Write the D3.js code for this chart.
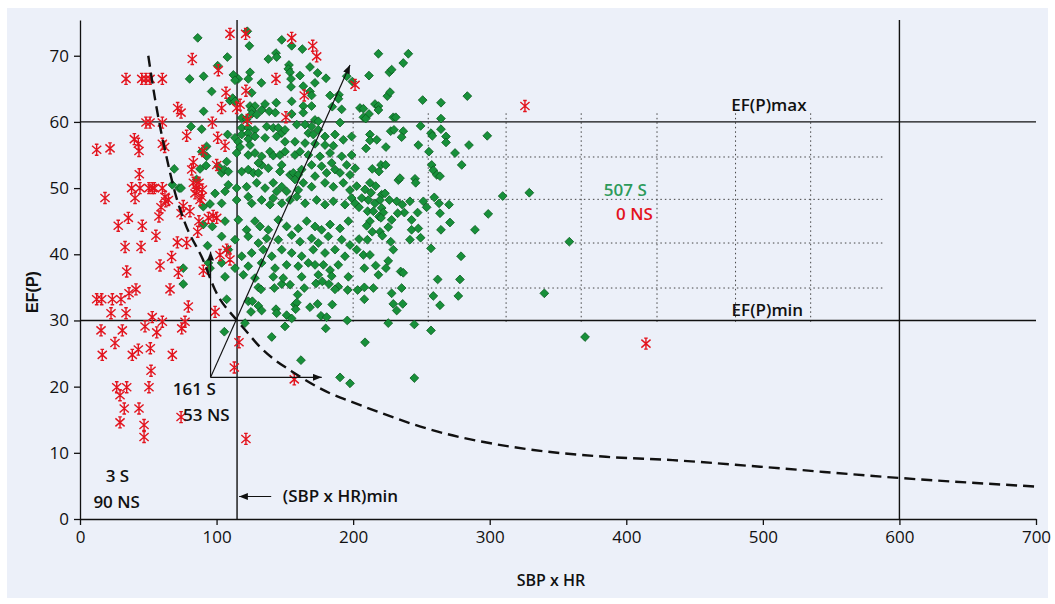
<!DOCTYPE html>
<html>
<head>
<meta charset="utf-8">
<script src="https://cdn.jsdelivr.net/npm/d3@7"></script>
<style>
  body { margin: 0; background: #fff; }
  svg text { font-family: "Open Sans", sans-serif; }
</style>
</head>
<body>
<svg id="chart" width="1055" height="604"></svg>
<script>
// ticks
const xTicks = [0, 100, 200, 300, 400, 500, 600, 700];
const yTicks = [0, 10, 20, 30, 40, 50, 60, 70];

// reference lines (EF(P)min / EF(P)max, (SBP x HR)min and 600)
const efLimits = [30, 60];
const sbpLimits = [115, 600];

// dotted grid inside the "S" zone
const gridXs = [200, 255, 312, 367, 422.5, 480, 535];
const gridYs = [34.9, 41.7, 48.3, 54.7];

// dashed limit curve
const curve = [[50,70],[55,63.4],[59.3,58.6],[62.2,55.8],[69.6,49.3],[76.9,44.7],[90,39.2],[98.9,34.6],
  [115,30],[120.8,28.6],[131.8,26],[158.9,21.8],[183,19],[199,17.7],[262,13.2],[326,10.6],[385,9.4],
  [434,8.9],[498,7.9],[600,6.2],[700,4.9]];

// S patients (green diamonds)
const sPoints = [
  [86.2,72.7],[80.3,66.5],[90.5,66.9],[96.4,64.6],[90.5,61.6],[81.3,59.3],[89.1,58.9],[92.7,56.3],
  [122.5,73.7],[124,71.5],[147.7,72.4],[155,71.5],[162.8,71.0],[107.9,69.8],[143.5,70.4],[144,69.8],[137.9,69.5],
  [153,68.6],[152.5,68.0],[153.8,67.5],[168.4,68.3],[100.8,68.5],[112.3,67.1],[115.9,66.5],[113.5,66.3],[124.5,67.5],
  [123.2,66.5],[132.8,65.9],[154.5,66.5],[154.5,65.3],[161.1,67.0],[174,67.4],[172,65.9],[180.1,66.6],[163.5,65.4],
  [195.3,66.9],[199.4,66.1],[125.7,64.4],[109.8,63.2],[111.8,63.6],[113.5,63.1],[143.7,62.9],[155,63.1],[168.4,64.6],
  [169.6,64.0],[183.1,64.0],[189.6,64.1],[189.2,63.5],[184.7,62.3],[191.6,61.9],[124.5,62.4],[128.1,62.4],[125.7,61.8],
  [135.5,62.7],[133,61.8],[138.6,61.6],[143,61.4],[163.5,62.4],[169.6,62.4],[163.5,61.4],[155,61.2],[118.4,60.6],
  [122,60.4],[125.7,61.2],[129.4,61.1],[190.4,59.9],[172,60.3],[174.5,60.1],
  [118.4,59.1],[123.2,59.1],[128.1,58.8],[118.4,58.1],[123.2,58.3],[123.2,57.4],[128.1,57.8],[136.7,59.3],[141.5,59.1],
  [145.2,59.1],[147.7,58.3],[144,57.8],[150.1,58.8],[158.7,59.6],[164.8,59.6],[169.6,59.3],[167.2,58.3],[170.8,58.1],
  [174.5,58.8],[179.4,57.8],[186.7,58.1],[108.1,58.1],[113.5,57.6],[115.9,57.0],[135.5,57.6],[150.1,57.0],[157.4,57.0],
  [164.8,56.8],[172.1,56.7],[179.4,56.5],[185.5,56.4],[192.8,57.3],[198.9,57.8],[124.5,56.5],[117.2,56.2],
  [218.5,70.3],[240.4,70.3],[236.7,68.9],[226.5,67.5],[228.2,67.9],[211.6,67.0],[225,63.9],[227,64.5],[250.9,63.3],
  [264.3,62.9],[283.6,63.9],[205,62.1],[207.5,62.0],[216,62.7],[218.5,62.4],[218.5,61.8],[211.6,61.2],[207.5,60.7],
  [209.2,60.5],[229.4,60.7],[231.2,60.7],[264.3,60.5],[249.4,59.4],[264.3,58.9],[227.5,58.6],[229.9,58.8],[236.7,58.6],
  [212.3,58.1],[212.3,57.2],[217.3,57.3],[235.5,57.7],[257,58.3],[258,57.9],[268,57.8],[268,56.9],[247.7,56.5],
  [284.8,56.5],[298.2,57.9],[224,56.2],[209.4,56.0],
  [89.1,55.5],[92.8,54.8],[87.9,52.9],[92.3,53.4],[69,52.9],[67.6,50.5],[72.5,50.0],[74,50.0],[85.4,51.3],[95.2,47.6],
  [90.3,47.2],[90.3,44.5],[96.9,44.2],[93.4,41.3],[75.6,37.9],[94,38.7],[95.2,37.9],[75.6,35.5],
  [101.3,53.3],[103.7,52.3],[98.9,49.2],
  [107.4,33.2],[105.7,28.3],[120.8,29.6],[140.4,27.5],[150.1,29.1],[161.8,24.0],[190.4,21.4],[197.7,20.5],[130.6,35.0],
  [132.5,34.7],[142.3,34.9],[147.7,35.5],[153.8,35.4],[164.2,34.9],[172.8,35.6],[177.4,35.9],[182.3,35.5],[189.1,35.1],
  [186.7,34.7],[196,34.6],[123.2,32.9],[126.2,32.9],[125.2,31.3],[130.6,32.2],[133,31.5],[143.5,31.7],[144,31.1],
  [151.3,30.8],[155,30.3],[159.4,33.9],[157.4,32.4],[158.7,32.7],[157.9,31.7],[168.4,32.0],[174,32.5],[176.5,30.7],
  [180.6,30.5],[184.7,32.4],[179.9,28.8],[195.7,30.0],
  [203.3,34.6],[208.2,35.0],[214.8,34.9],[208.2,33.2],[228.2,34.1],[235.5,34.9],[229.4,32.5],[236.3,32.5],[231.9,31.5],
  [258.7,33.7],[263.6,32.3],[277,33.7],[340,34.1],[225.7,29.6],[244.8,29.4],[257,28.5],[208.7,26.7],[244.8,21.3],
  [309.5,48.8],[329,49.3],[358.3,41.9],[369.8,27.5],
  [255.5,55.5],[274.6,55.3],[214,52.9],[220.4,53.5],[223.8,53.5],[218.9,52.5],[257.5,53.5],[258.7,52.7],[261.2,52.0],
  [263.6,51.8],[279.5,53.5],[233.1,51.2],[234.3,51.5],[245.3,51.4],[245.8,50.8],[201.4,53.0],[202.6,50.3],[208.7,49.8],
  [212.3,50.8],[213.1,49.3],[216.5,50.3],[220.9,49.0],[223.3,49.2],[216,47.7],[219.7,48.2],[211.1,48.2],[206.3,48.5],
  [201.4,47.7],[204.3,47.1],[226.5,48.2],[231.9,48.0],[236,47.5],[241.6,48.0],[247.2,46.3],[251.4,48.0],[253.8,47.1],
  [259.4,48.6],[262.9,47.7],[270.2,47.5],[263.6,46.2],[270.9,44.8],[264.3,43.7],[289.2,43.7],[298.9,46.1],[210.6,46.5],
  [214.8,46.5],[220.9,47.0],[222.1,46.3],[218.9,45.7],[220.4,45.5],[228.2,45.2],[237.5,46.3],[232.6,46.2],[212.3,45.0],
  [209.9,44.3],[225.7,44.1],[242.8,45.2],[242.8,43.7],[247.7,43.9],[214,43.4],[219.7,43.4],[221.4,42.8],[204.3,42.3],
  [210.4,42.2],[241.6,42.2],[249.4,42.5],[227.5,41.9],[257,40.9],[229.4,40.7],[202.6,40.7],[279,39.7],[207.5,39.9],
  [212.3,39.9],[225.7,39.0],[216.5,38.3],[224,37.9],[208.2,37.9],[234.8,37.4],[236.7,37.2],[218.5,36.9],[261.9,36.2],
  [278.2,36.2],
  [114.7,55.3],[123.2,55.0],[128.1,55.3],[133,54.8],[139.1,55.5],[141.5,54.9],[146.4,55.0],[150.1,55.5],[157.4,55.0],
  [161.1,55.5],[167.2,55.0],[175.7,54.8],[183.1,55.3],[191.6,54.8],[198.9,55.0],[107.4,54.0],[105.7,52.8],[108.6,52.5],
  [118.4,52.5],[123.2,52.8],[126.9,52.3],[130.6,52.3],[133,53.5],[130.6,53.8],[137.9,53.0],[146.4,52.5],[147.7,53.5],
  [153.8,52.0],[156.2,52.3],[159.8,52.0],[162.3,52.8],[169.6,53.5],[172.1,51.8],[176.9,53.3],[180.6,52.3],[184.3,53.8],
  [186.7,52.8],[190.4,52.3],[195.3,53.5],[197.7,52.0],
  [108.6,50.5],[106.2,49.5],[114.7,50.0],[122,50.2],[129.4,50.8],[135.5,50.0],[141.5,50.8],[144,49.5],[147.7,50.2],
  [151.3,49.5],[157.4,51.3],[159.8,49.7],[163.5,50.8],[169.6,50.2],[179.4,50.8],[185.5,50.2],[192.8,50.8],[197.7,49.7],
  [103.7,47.7],[114.7,48.2],[123.2,48.7],[125.7,47.7],[133,48.2],[139.1,47.5],[141.5,48.5],[147.7,47.7],[153.8,48.2],
  [158.7,48.7],[164.8,47.7],[173.3,48.2],[179.4,47.5],[185.5,48.0],[194,47.5],[198.9,48.5],
  [106.2,45.0],[115.9,45.2],[122,43.7],[128.1,45.0],[131.8,44.2],[137.9,43.7],[145.2,45.2],[151.3,44.2],[159.8,43.9],
  [166,45.0],[172.1,44.2],[176.9,43.7],[183.1,44.5],[190.4,43.9],[196.5,45.0],[103.7,42.7],[113.5,42.2],[123.2,42.7],
  [130.6,41.7],[136.7,42.4],[145.2,42.2],[155,42.9],[161.1,41.9],[169.6,42.4],[174.5,41.7],[181.8,42.7],[191.6,42.2],
  [197.7,41.4],[108.6,40.7],[118.4,39.7],[125.7,40.2],[134.2,40.7],[140.4,39.7],[147.7,40.7],[155,40.2],[162.3,39.7],
  [170.8,40.7],[179.4,40.2],[186.7,40.7],[194,39.7],[103.7,38.7],[113.5,37.9],[123.2,38.2],[133,38.7],[142.8,37.9],
  [151.3,38.4],[159.8,38.2],[167.2,38.7],[172.1,38.4],[178.2,38.4],[183.1,37.6],[189.1,38.4],[106.2,36.6],[119.6,36.9],
  [128.1,36.4],[141.5,36.6],[148.8,36.4],[162.3,36.6],[174.5,36.9],[184.3,36.7],[196.5,36.6]
];

// NS patients (red asterisks)
const nsPoints = [
  [82.2,69.5],[33.7,66.5],[45.2,66.5],[48.3,66.5],[51.3,66.5],[60.3,66.5],[71.5,62.1],[74,61.4],[48.3,59.9],[51.3,59.9],
  [60.3,59.9],[96.9,59.9],[78.1,57.9],[39.8,57.4],[42.7,56.7],[60.3,56.7],[62,56.2],[12.2,55.8],[22,56],[43.2,55.6],[90,55.6],
  [109.8,73.3],[121.3,73.3],[155,72.7],[170.4,71.5],[173.3,69.9],[101.3,67.8],[143.5,66.5],[106.9,64.4],[121.5,64.7],
  [103.7,62.1],[114.7,62.1],[117.2,62.6],[164.2,64.0],[150.8,60.7],[122.5,60.3],[100.8,57.6],[106.2,56.4],[201.4,65.6],
  [83,53.9],[81.8,52.8],[43.4,52.1],[37.8,50],[43.9,50],[50.5,50],[52.9,50],[54.4,50],[60.3,50],[83,50.8],[85.4,50],
  [87.1,50.8],[89.6,49.8],[18.3,48.5],[40.3,48.5],[62.2,48.7],[64.7,48.2],[62.8,48.0],[84.2,49.2],[89.1,48.7],[87.9,48.2],
  [59.3,47.1],[75.6,47.3],[80.5,46.5],[74,46.2],[35.4,45.5],[28,44.3],[45.6,44.3],[57.8,45.7],[94,45.5],[87.1,45.0],
  [86.2,43.4],[55.6,42.8],[33,41.1],[44.7,41.1],[71.3,41.8],[78.1,41.7],[67.1,39.6],[58.6,38.3],[34.2,37.4],[72,37.2],
  [90.3,37.5],[100.1,53.5],[100.1,45.5],[97.5,45.8],[107.4,40.7],[102.5,39.9],[109.8,39.2],
  [12.2,33.2],[15.9,33.2],[23.7,33.2],[30,33.2],[35.9,34.1],[41,34.7],[65.9,34.7],[79.3,32.1],[22.7,31.1],[33.7,31.1],
  [52.9,30.5],[60.3,29.8],[47.6,29.1],[56.2,28.2],[76.9,29.8],[74.5,28.8],[15.4,28.5],[31,28.5],[25.6,26.6],[16.3,24.8],
  [38.3,24.8],[42.7,25.6],[51.5,25.8],[67.6,24.8],[52,22.4],[26.9,19.9],[34.2,19.9],[29.3,18.7],[50.5,19.9],[32.4,16.7],
  [43.2,16.7],[29.3,14.6],[46.9,14.2],[46.9,12.4],[74,15.4],[121.5,12.1],
  [98.9,31.3],[116.4,26.7],[113,22.9],[156.9,21.1],[325.8,62.4],[414.4,26.5]
];

const svg = d3.select("#chart");
const x = d3.scaleLinear().domain([0, 700]).range([80, 1036]);
const y = d3.scaleLinear().domain([0, 75.4]).range([519, 20]);

// background panel
svg.append("rect")
  .attr("x", 7).attr("y", 8).attr("width", 1041).attr("height", 590)
  .attr("fill", "#ecf0f9");

const defs = svg.append("defs");
defs.append("marker")
  .attr("id", "arrow")
  .attr("viewBox", "0 0 10 8")
  .attr("refX", 10).attr("refY", 4)
  .attr("markerWidth", 9).attr("markerHeight", 7)
  .attr("markerUnits", "userSpaceOnUse")
  .attr("orient", "auto")
  .append("path").attr("d", "M0,0 L10,4 L0,8 Z").attr("fill", "#111");

// dotted grid
svg.append("g").selectAll("line").data(gridXs).join("line")
  .attr("x1", d => x(d)).attr("x2", d => x(d))
  .attr("y1", y(61.3)).attr("y2", y(29.6))
  .attr("stroke", "#444").attr("stroke-width", 1).attr("stroke-dasharray", "1.5,3");
svg.append("g").selectAll("line").data(gridYs).join("line")
  .attr("x1", x(135)).attr("x2", x(589.5))
  .attr("y1", d => y(d)).attr("y2", d => y(d))
  .attr("stroke", "#444").attr("stroke-width", 1).attr("stroke-dasharray", "1.5,3");

// axes
const xAxis = svg.append("g")
  .attr("transform", `translate(0,${y(0)})`)
  .call(d3.axisBottom(x).tickValues(xTicks).tickSize(6).tickSizeOuter(0).tickPadding(6));
const yAxis = svg.append("g")
  .attr("transform", `translate(${x(0)},0)`)
  .call(d3.axisLeft(y).tickValues(yTicks).tickSize(6).tickSizeOuter(0).tickPadding(5));
[xAxis, yAxis].forEach(g => {
  g.selectAll("path, line").attr("stroke", "#111").attr("stroke-width", 1.3);
  g.selectAll("text").attr("font-size", 17).attr("fill", "#111")
    .style("font-family", "'Open Sans', sans-serif");
});

// solid reference lines
svg.append("g").selectAll("line").data(efLimits).join("line")
  .attr("x1", x(0)).attr("x2", x(700))
  .attr("y1", d => y(d)).attr("y2", d => y(d))
  .attr("stroke", "#111").attr("stroke-width", 1.4);
svg.append("g").selectAll("line").data(sbpLimits).join("line")
  .attr("x1", d => x(d)).attr("x2", d => x(d))
  .attr("y1", y(75.4)).attr("y2", y(0))
  .attr("stroke", "#111").attr("stroke-width", 1.4);

// green diamonds
svg.append("g").selectAll("path").data(sPoints).join("path")
  .attr("transform", d => `translate(${x(d[0])},${y(d[1])})`)
  .attr("d", "M0,-4.4 L4.4,0 L0,4.4 L-4.4,0 Z")
  .attr("fill", "#17903a").attr("stroke", "#0b5c1f").attr("stroke-width", 0.8);

// red asterisks
svg.append("g").selectAll("path").data(nsPoints).join("path")
  .attr("transform", d => `translate(${x(d[0])},${y(d[1])})`)
  .attr("d", "M0,-5.5V5.5M-4.6,-4L4.6,4M-4.6,4L4.6,-4M-1.8,-5.5H1.8M-1.8,5.5H1.8")
  .attr("fill", "none").attr("stroke", "#e3141e").attr("stroke-width", 1.4);

// dashed limit curve
svg.append("path")
  .datum(curve)
  .attr("d", d3.line().x(d => x(d[0])).y(d => y(d[1])).curve(d3.curveMonotoneX))
  .attr("fill", "none").attr("stroke", "#111").attr("stroke-width", 2.4)
  .attr("stroke-dasharray", "11,6");

// arrows from the corner
const corner = [95.6, 21.4];
const arrowEnds = [[95.6, 40.4], [177, 21.4], [197.7, 68.6]];
svg.append("g").selectAll("line").data(arrowEnds).join("line")
  .attr("x1", x(corner[0])).attr("y1", y(corner[1]))
  .attr("x2", d => x(d[0])).attr("y2", d => y(d[1]))
  .attr("stroke", "#111").attr("stroke-width", 1.2)
  .attr("marker-end", "url(#arrow)");

// (SBP x HR)min arrow
svg.append("line")
  .attr("x1", x(140)).attr("x2", x(116.5))
  .attr("y1", y(3.4)).attr("y2", y(3.4))
  .attr("stroke", "#111").attr("stroke-width", 1.2)
  .attr("marker-end", "url(#arrow)");

// annotations
const notes = [
  { t: "(SBP x HR)min", x: 148.5, y: 2.6, a: "start", c: "#111" },
  { t: "EF(P)max", x: 532, y: 61.6, a: "end", c: "#111" },
  { t: "EF(P)min", x: 529.5, y: 30.6, a: "end", c: "#111" },
  { t: "507 S", x: 415, y: 48.8, a: "end", c: "#2c9a5a" },
  { t: "0 NS", x: 419.5, y: 45.2, a: "end", c: "#e3141e" },
  { t: "161 S", x: 68, y: 18.7, a: "start", c: "#111" },
  { t: "53 NS", x: 75.5, y: 14.8, a: "start", c: "#111" },
  { t: "3 S", x: 18.8, y: 5.6, a: "start", c: "#111" },
  { t: "90 NS", x: 9.8, y: 1.6, a: "start", c: "#111" }
];
svg.append("g").selectAll("text").data(notes).join("text")
  .attr("x", d => x(d.x)).attr("y", d => y(d.y))
  .attr("text-anchor", d => d.a)
  .attr("fill", d => d.c)
  .attr("font-size", 17).attr("font-weight", 600)
  .text(d => d.t);

// axis titles
svg.append("text")
  .attr("x", 551).attr("y", 586)
  .attr("text-anchor", "middle")
  .attr("font-size", 16).attr("font-weight", 600).attr("fill", "#111")
  .text("SBP x HR");
svg.append("text")
  .attr("transform", "translate(38,292) rotate(-90)")
  .attr("text-anchor", "middle")
  .style("font-family", "'Liberation Sans', Arial, sans-serif")
  .attr("font-size", 16).attr("font-weight", 700).attr("fill", "#111")
  .text("EF(P)");
</script>
</body>
</html>
